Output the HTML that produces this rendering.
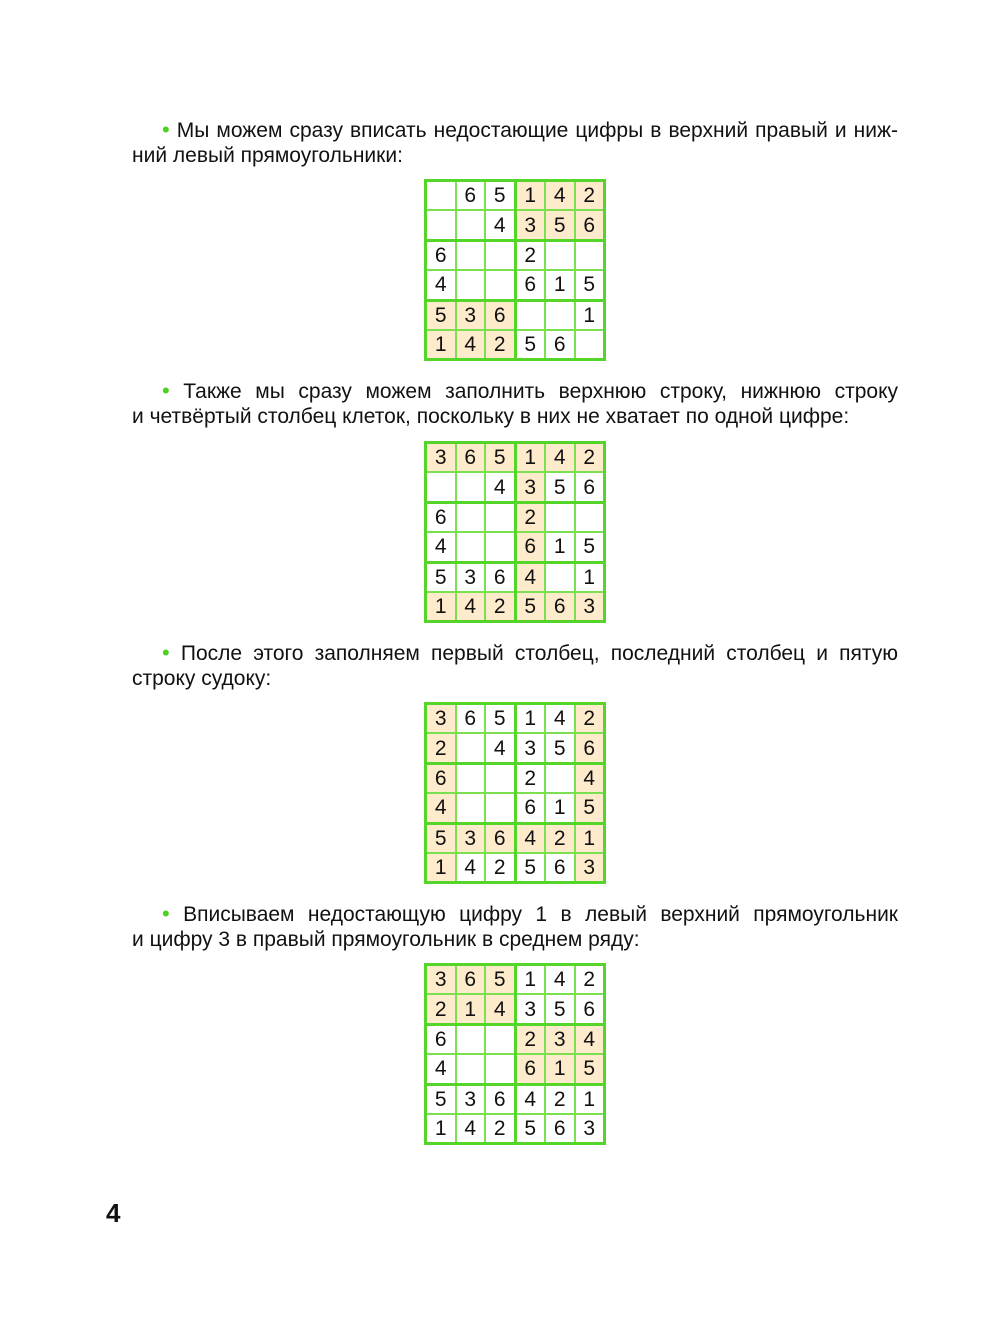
<!DOCTYPE html>
<html><head><meta charset="utf-8"><style>
body{margin:0;background:#fff;width:1000px;height:1317px;position:relative;font-family:"Liberation Sans",sans-serif;color:#111;}
.l{position:absolute;left:132px;width:766px;font-size:21px;line-height:25px;white-space:nowrap;}
.j{text-align:justify;text-align-last:justify;white-space:normal;}
.b{color:#4cd11f;font-size:22px;}
table{position:absolute;left:424px;border-collapse:collapse;border:3px solid #55d42a;}
td{width:27.5px;height:27.4px;padding:0;border:2px solid #7ae04f;text-align:center;font-size:21px;line-height:27px;}
td:nth-child(3){border-right:3px solid #55d42a;}
tr:nth-child(2) td,tr:nth-child(4) td{border-bottom:3px solid #55d42a;}
.s{background:#fdebcc;}
</style></head><body>
<div class="l j" style="top:117px;padding-left:30px;width:736px"><span class="b">•</span> Мы можем сразу вписать недостающие цифры в верхний правый и ниж-</div>
<div class="l" style="top:143px">ний левый прямоугольники:</div>
<table style="top:179px">
<tr><td></td><td>6</td><td>5</td><td class="s">1</td><td class="s">4</td><td class="s">2</td></tr>
<tr><td></td><td></td><td>4</td><td class="s">3</td><td class="s">5</td><td class="s">6</td></tr>
<tr><td>6</td><td></td><td></td><td>2</td><td></td><td></td></tr>
<tr><td>4</td><td></td><td></td><td>6</td><td>1</td><td>5</td></tr>
<tr><td class="s">5</td><td class="s">3</td><td class="s">6</td><td></td><td></td><td>1</td></tr>
<tr><td class="s">1</td><td class="s">4</td><td class="s">2</td><td>5</td><td>6</td><td></td></tr>
</table>
<div class="l j" style="top:378px;padding-left:30px;width:736px"><span class="b">•</span> Также мы сразу можем заполнить верхнюю строку, нижнюю строку</div>
<div class="l" style="top:404px">и четвёртый столбец клеток, поскольку в них не хватает по одной цифре:</div>
<table style="top:441px">
<tr><td class="s">3</td><td class="s">6</td><td class="s">5</td><td class="s">1</td><td class="s">4</td><td class="s">2</td></tr>
<tr><td></td><td></td><td>4</td><td class="s">3</td><td>5</td><td>6</td></tr>
<tr><td>6</td><td></td><td></td><td class="s">2</td><td></td><td></td></tr>
<tr><td>4</td><td></td><td></td><td class="s">6</td><td>1</td><td>5</td></tr>
<tr><td>5</td><td>3</td><td>6</td><td class="s">4</td><td></td><td>1</td></tr>
<tr><td class="s">1</td><td class="s">4</td><td class="s">2</td><td class="s">5</td><td class="s">6</td><td class="s">3</td></tr>
</table>
<div class="l j" style="top:640px;padding-left:30px;width:736px"><span class="b">•</span> После этого заполняем первый столбец, последний столбец и пятую</div>
<div class="l" style="top:666px">строку судоку:</div>
<table style="top:702px">
<tr><td class="s">3</td><td>6</td><td>5</td><td>1</td><td>4</td><td class="s">2</td></tr>
<tr><td class="s">2</td><td></td><td>4</td><td>3</td><td>5</td><td class="s">6</td></tr>
<tr><td class="s">6</td><td></td><td></td><td>2</td><td></td><td class="s">4</td></tr>
<tr><td class="s">4</td><td></td><td></td><td>6</td><td>1</td><td class="s">5</td></tr>
<tr><td class="s">5</td><td class="s">3</td><td class="s">6</td><td class="s">4</td><td class="s">2</td><td class="s">1</td></tr>
<tr><td class="s">1</td><td>4</td><td>2</td><td>5</td><td>6</td><td class="s">3</td></tr>
</table>
<div class="l j" style="top:901px;padding-left:30px;width:736px"><span class="b">•</span> Вписываем недостающую цифру 1 в левый верхний прямоугольник</div>
<div class="l" style="top:927px">и цифру 3 в правый прямоугольник в среднем ряду:</div>
<table style="top:963px">
<tr><td class="s">3</td><td class="s">6</td><td class="s">5</td><td>1</td><td>4</td><td>2</td></tr>
<tr><td class="s">2</td><td class="s">1</td><td class="s">4</td><td>3</td><td>5</td><td>6</td></tr>
<tr><td>6</td><td></td><td></td><td class="s">2</td><td class="s">3</td><td class="s">4</td></tr>
<tr><td>4</td><td></td><td></td><td class="s">6</td><td class="s">1</td><td class="s">5</td></tr>
<tr><td>5</td><td>3</td><td>6</td><td>4</td><td>2</td><td>1</td></tr>
<tr><td>1</td><td>4</td><td>2</td><td>5</td><td>6</td><td>3</td></tr>
</table>
<div style="position:absolute;left:106px;top:1198px;font-size:26px;font-weight:bold;">4</div>
</body></html>
